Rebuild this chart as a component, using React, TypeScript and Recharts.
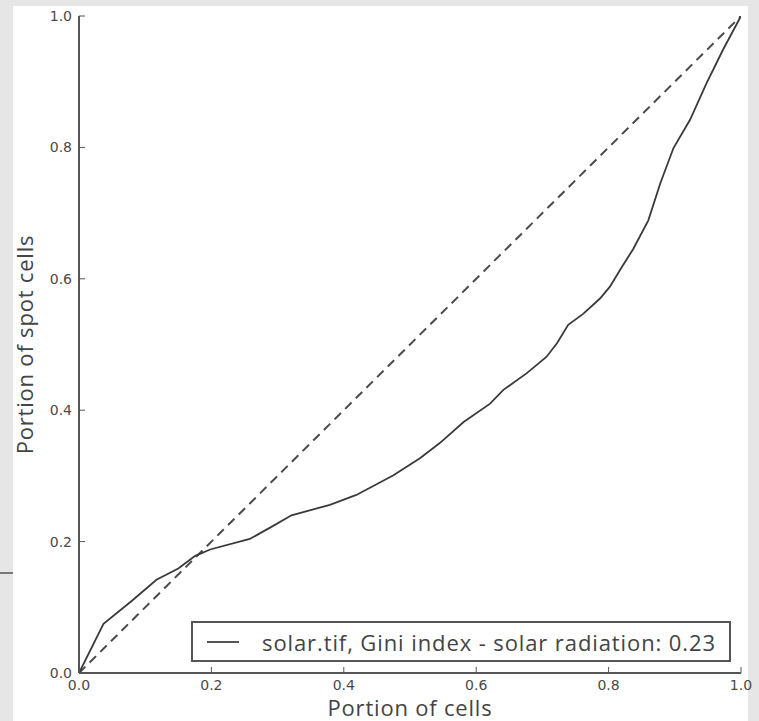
import { LineChart, Line, XAxis, YAxis, Label } from 'recharts';

// portion of cells (x) vs portion of spot cells (y)
const cellShare = [
  0, 0.037, 0.08, 0.117, 0.15, 0.175, 0.198, 0.258, 0.29, 0.321, 0.379, 0.419,
  0.475, 0.515, 0.545, 0.581, 0.621, 0.641, 0.676, 0.706, 0.722, 0.739, 0.762,
  0.787, 0.802, 0.82, 0.837, 0.86, 0.878, 0.898, 0.923, 0.948, 0.973, 1,
];
const spotShare = [
  0, 0.075, 0.11, 0.142, 0.159, 0.178, 0.188, 0.204, 0.222, 0.24, 0.256, 0.271,
  0.301, 0.327, 0.35, 0.382, 0.41, 0.431, 0.456, 0.481, 0.502, 0.53, 0.547,
  0.57, 0.588, 0.618, 0.645, 0.689, 0.745, 0.799, 0.842, 0.898, 0.949, 1,
];
const equalityX = [0, 1];
const equalityY = [0, 1];
const ticks = [0, 0.2, 0.4, 0.6, 0.8, 1.0];
const legendLabel = 'solar.tif, Gini index - solar radiation: 0.23';

const curve = cellShare.map((x, i) => ({ x, y: spotShare[i] }));
const equality = equalityX.map((x, i) => ({ x, y: equalityY[i] }));

const AXIS = '#555';
const TICK_LEN = 6;
const tickFont = { fontFamily: 'DejaVu Sans', fontSize: 14, fill: '#4a4a4a' };
const labelFont = {
  fontFamily: 'Open Sans',
  fontSize: 22,
  fill: '#444',
  letterSpacing: 0.8,
};

const BottomTick = ({ x, y, payload }: any) => (
  <g>
    <line x1={x} x2={x} y1={y} y2={y - TICK_LEN} stroke={AXIS} strokeWidth={1} />
    <text x={x} y={y + 17} textAnchor="middle" {...tickFont}>
      {payload.value.toFixed(1)}
    </text>
  </g>
);

const LeftTick = ({ x, y, payload }: any) => (
  <g>
    <line x1={x} x2={x + TICK_LEN} y1={y} y2={y} stroke={AXIS} strokeWidth={1} />
    <text x={x - 7} y={y + 5} textAnchor="end" {...tickFont}>
      {payload.value.toFixed(1)}
    </text>
  </g>
);

const TopTick = ({ x, y }: any) => (
  <line x1={x} x2={x} y1={y} y2={y + TICK_LEN} stroke={AXIS} strokeWidth={1} />
);

const RightTick = ({ x, y }: any) => (
  <line x1={x} x2={x - TICK_LEN} y1={y} y2={y} stroke={AXIS} strokeWidth={1} />
);

export default function App() {
  return (
    <div
      style={{
        position: 'absolute',
        left: 0,
        top: 0,
        width: 759,
        height: 721,
        background: '#e6e6e6',
        overflow: 'hidden',
      }}
    >
      <div
        style={{
          position: 'absolute',
          left: 13,
          top: 6,
          width: 735,
          height: 715,
          background: '#fff',
        }}
      />
      <div
        style={{
          position: 'absolute',
          left: 0,
          top: 572,
          width: 13,
          height: 2,
          background: '#777',
        }}
      />
      <div style={{ position: 'absolute', left: 0, top: 0 }}>
        <LineChart
          width={759}
          height={721}
          margin={{ top: 16, right: 18, bottom: 0, left: 0 }}
        >
          <XAxis
            type="number"
            dataKey="x"
            domain={[0, 1]}
            ticks={ticks}
            height={48}
            tickSize={0}
            tickMargin={0}
            tickLine={false}
            tick={<BottomTick />}
            axisLine={{ stroke: AXIS, strokeWidth: 2 }}
            allowDataOverflow
          >
            <Label
              content={({ viewBox }: any) => (
                <text
                  x={viewBox.x + viewBox.width / 2}
                  y={716}
                  textAnchor="middle"
                  {...labelFont}
                >
                  Portion of cells
                </text>
              )}
            />
          </XAxis>
          <XAxis
            xAxisId="top"
            orientation="top"
            type="number"
            domain={[0, 1]}
            ticks={ticks}
            height={0}
            tickSize={0}
            tickMargin={0}
            tickLine={false}
            tick={<TopTick />}
            axisLine={{ stroke: AXIS, strokeWidth: 2 }}
          />
          <YAxis
            type="number"
            dataKey="y"
            domain={[0, 1]}
            ticks={ticks}
            width={79}
            tickSize={0}
            tickMargin={0}
            tickLine={false}
            tick={<LeftTick />}
            axisLine={{ stroke: AXIS, strokeWidth: 2 }}
            allowDataOverflow
          >
            <Label
              content={({ viewBox }: any) => {
                const cy = viewBox.y + viewBox.height / 2;
                return (
                  <text
                    x={33}
                    y={cy}
                    textAnchor="middle"
                    transform={`rotate(-90 33 ${cy})`}
                    {...labelFont}
                  >
                    Portion of spot cells
                  </text>
                );
              }}
            />
          </YAxis>
          <YAxis
            yAxisId="right"
            orientation="right"
            type="number"
            domain={[0, 1]}
            ticks={ticks}
            width={0}
            tickSize={0}
            tickMargin={0}
            tickLine={false}
            tick={<RightTick />}
            axisLine={{ stroke: AXIS, strokeWidth: 2 }}
          />
          <Line
            data={equality}
            dataKey="y"
            type="linear"
            stroke="#4a4a4a"
            strokeWidth={2}
            strokeDasharray="9 6"
            dot={false}
            isAnimationActive={false}
          />
          <Line
            data={curve}
            dataKey="y"
            type="linear"
            stroke="#3a3a3a"
            strokeWidth={1.8}
            dot={false}
            isAnimationActive={false}
          />
        </LineChart>
      </div>
      <div
        style={{
          position: 'absolute',
          left: 191,
          top: 621,
          width: 536,
          height: 37,
          border: `2px solid ${AXIS}`,
          background: '#fff',
          display: 'flex',
          alignItems: 'center',
          fontFamily: 'Open Sans',
          fontSize: 22,
          letterSpacing: 0.9,
          color: '#444',
        }}
      >
        <span
          style={{
            display: 'inline-block',
            marginLeft: 14,
            width: 32,
            height: 2,
            background: '#555',
          }}
        />
        <span style={{ marginLeft: 23, whiteSpace: 'nowrap' }}>{legendLabel}</span>
      </div>
    </div>
  );
}
